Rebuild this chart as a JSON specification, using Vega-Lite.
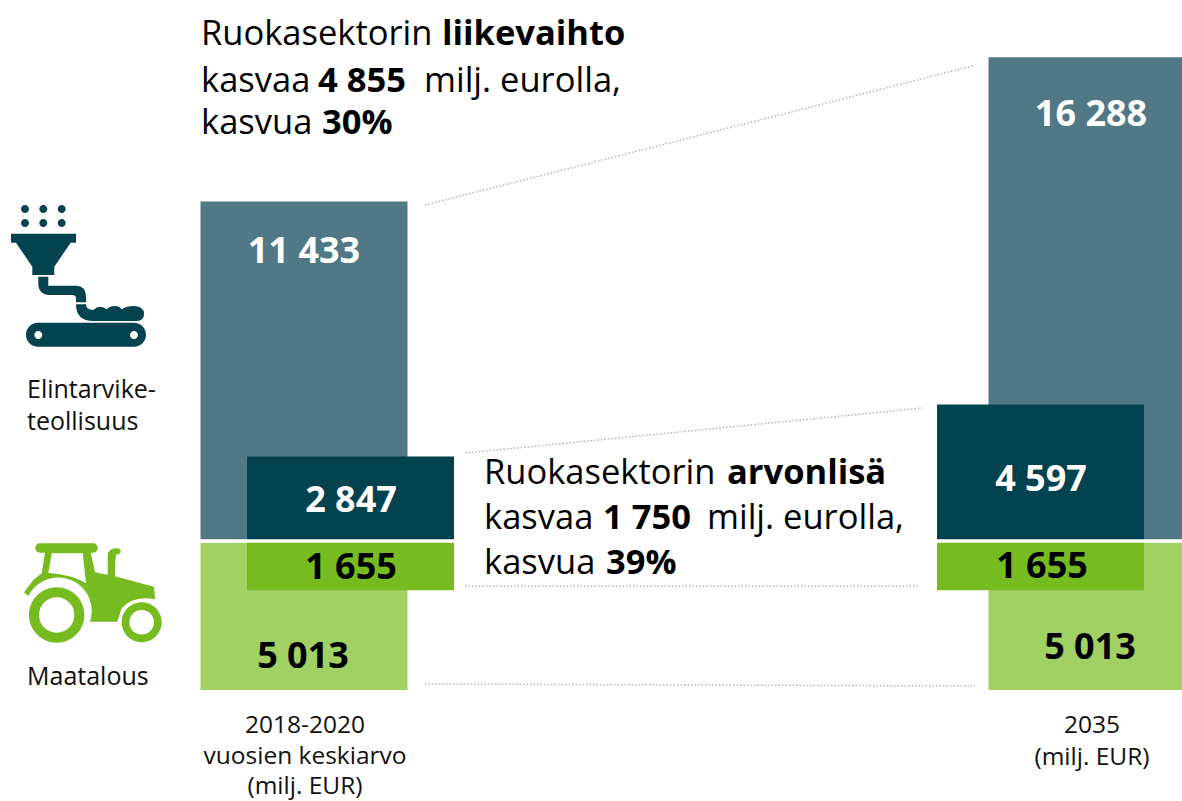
{"$schema":"https://vega.github.io/schema/vega-lite/v6.json","width":1182,"height":801,"padding":0,"autosize":{"type":"none"},"background":"white","config":{"view":{"stroke":null},"text":{"font":"Open Sans"}},
"data":{"values":[
{"id":"fa","period":"2018-2020","series":"Elintarviketeollisuus liikevaihto","start":5013,"end":16446,"label":"11 433"},
{"id":"fb","period":"2035","series":"Elintarviketeollisuus liikevaihto","start":5013,"end":21301,"label":"16 288"},
{"id":"la","period":"2018-2020","series":"Maatalous liikevaihto","start":0,"end":5013,"label":"5 013"},
{"id":"lb","period":"2035","series":"Maatalous liikevaihto","start":0,"end":5013,"label":"5 013"},
{"id":"da","period":"2018-2020","series":"Elintarviketeollisuus arvonlisä","start":5013,"end":7860,"label":"2 847"},
{"id":"db","period":"2035","series":"Elintarviketeollisuus arvonlisä","start":5013,"end":9610,"label":"4 597"},
{"id":"ga","period":"2018-2020","series":"Maatalous arvonlisä","start":3358,"end":5013,"label":"1 655"},
{"id":"gb","period":"2035","series":"Maatalous arvonlisä","start":3358,"end":5013,"label":"1 655"}]},
"datasets":{"links":[
{"id":"a","from":"2018-2020","to":"2035","left":16446,"right":21301},
{"id":"b","from":"2018-2020","to":"2035","left":7860,"right":9610},
{"id":"c","from":"2018-2020","to":"2035","left":3358,"right":3358},
{"id":"d","from":"2018-2020","to":"2035","left":0,"right":0}],
"one":[{"period":"2018-2020"}]},
"encoding":{"x":{"type":"nominal","axis":null,"scale":{"type":"point","domain":["2018-2020","2035"],"range":[304,1092],"padding":0}},"y":{"type":"quantitative","axis":null,"scale":{"domain":[-3737,23232],"range":[801,0],"nice":false,"zero":false}}},
"layer":[
{"transform":[{"filter":"datum.id=='fa'||datum.id=='fb'"}],"mark":{"type":"bar","width":207,"color":"#507885","clip":true},"encoding":{"x":{"field":"period"},"y":{"field":"end"},"y2":{"field":"start"}}},
{"transform":[{"filter":"datum.id=='la'||datum.id=='lb'"}],"mark":{"type":"bar","width":207,"color":"#a1d162","clip":true},"encoding":{"x":{"field":"period"},"y":{"field":"end"},"y2":{"field":"start"}}},
{"transform":[{"filter":"datum.id=='da'||datum.id=='ga'"}],"mark":{"type":"bar","width":207,"xOffset":46.5},"encoding":{"x":{"field":"period"},"y":{"field":"end"},"y2":{"field":"start"},"color":{"field":"series","type":"nominal","legend":null,"scale":{"domain":["Elintarviketeollisuus arvonlisä","Maatalous arvonlisä"],"range":["#03424f","#76bc21"]}}}},
{"transform":[{"filter":"datum.id=='db'||datum.id=='gb'"}],"mark":{"type":"bar","width":207,"xOffset":-51.5},"encoding":{"x":{"field":"period"},"y":{"field":"end"},"y2":{"field":"start"},"color":{"field":"series","type":"nominal","legend":null}}},
{"data":{"name":"one"},"mark":{"type":"rule","color":"white","strokeWidth":3.5},"encoding":{"x":{"value":0},"x2":{"value":1182},"y":{"datum":5013}}},
{"data":{"name":"links"},"transform":[{"filter":"datum.id=='a'"}],"mark":{"type":"rule","color":"#b5b5b5","strokeWidth":1.5,"strokeDash":[1.5,2],"xOffset":121,"x2Offset":-119,"yOffset":3.5,"y2Offset":8.5},"encoding":{"x":{"field":"from"},"x2":{"field":"to"},"y":{"field":"left"},"y2":{"field":"right"}}},
{"data":{"name":"links"},"transform":[{"filter":"datum.id=='b'"}],"mark":{"type":"rule","color":"#b5b5b5","strokeWidth":1.5,"strokeDash":[1.5,2],"xOffset":161,"x2Offset":-170,"yOffset":-3.5,"y2Offset":3.5},"encoding":{"x":{"field":"from"},"x2":{"field":"to"},"y":{"field":"left"},"y2":{"field":"right"}}},
{"data":{"name":"links"},"transform":[{"filter":"datum.id=='c'"}],"mark":{"type":"rule","color":"#b5b5b5","strokeWidth":1.5,"strokeDash":[1.5,2],"xOffset":161,"x2Offset":-172,"yOffset":-4,"y2Offset":-4},"encoding":{"x":{"field":"from"},"x2":{"field":"to"},"y":{"field":"left"},"y2":{"field":"right"}}},
{"data":{"name":"links"},"transform":[{"filter":"datum.id=='d'"}],"mark":{"type":"rule","color":"#b5b5b5","strokeWidth":1.5,"strokeDash":[1.5,2],"xOffset":121,"x2Offset":-117,"yOffset":-6,"y2Offset":-4},"encoding":{"x":{"field":"from"},"x2":{"field":"to"},"y":{"field":"left"},"y2":{"field":"right"}}},

{"transform":[{"filter":"datum.id=='fa'"}],"mark":{"type":"text","fontSize":36,"fontWeight":"bold","color":"white","dy":61.5,"baseline":"alphabetic"},"encoding":{"x":{"field":"period"},"y":{"field":"end"},"text":{"field":"label"}}},
{"transform":[{"filter":"datum.id=='fb'"}],"mark":{"type":"text","fontSize":36,"fontWeight":"bold","color":"white","dy":69.1,"dx":-1,"baseline":"alphabetic"},"encoding":{"x":{"field":"period"},"y":{"field":"end"},"text":{"field":"label"}}},
{"transform":[{"filter":"datum.id=='da'"}],"mark":{"type":"text","fontSize":36,"fontWeight":"bold","color":"white","dy":55,"dx":47,"baseline":"alphabetic"},"encoding":{"x":{"field":"period"},"y":{"field":"end"},"text":{"field":"label"}}},
{"transform":[{"filter":"datum.id=='db'"}],"mark":{"type":"text","fontSize":36,"fontWeight":"bold","color":"white","dy":86.5,"dx":-51,"baseline":"alphabetic"},"encoding":{"x":{"field":"period"},"y":{"field":"end"},"text":{"field":"label"}}},
{"transform":[{"filter":"datum.id=='ga'"}],"mark":{"type":"text","fontSize":36,"fontWeight":"bold","color":"black","dy":37.5,"dx":47,"baseline":"alphabetic"},"encoding":{"x":{"field":"period"},"y":{"field":"end"},"text":{"field":"label"}}},
{"transform":[{"filter":"datum.id=='gb'"}],"mark":{"type":"text","fontSize":36,"fontWeight":"bold","color":"black","dy":36.5,"dx":-50,"baseline":"alphabetic"},"encoding":{"x":{"field":"period"},"y":{"field":"end"},"text":{"field":"label"}}},
{"transform":[{"filter":"datum.id=='la'"}],"mark":{"type":"text","fontSize":36,"fontWeight":"bold","color":"black","dy":127,"dx":-1,"baseline":"alphabetic"},"encoding":{"x":{"field":"period"},"y":{"field":"end"},"text":{"field":"label"}}},
{"transform":[{"filter":"datum.id=='lb'"}],"mark":{"type":"text","fontSize":36,"fontWeight":"bold","color":"black","dy":118,"dx":-2,"baseline":"alphabetic"},"encoding":{"x":{"field":"period"},"y":{"field":"end"},"text":{"field":"label"}}},

{"data":{"values":[{"t":"Ruokasektorin"}]},"mark":{"type":"text","fontSize":34.5,"align":"left","baseline":"alphabetic","color":"black","dx":-103},"encoding":{"x":{"datum":"2018-2020"},"y":{"datum":21717},"text":{"field":"t"}}},
{"data":{"values":[{"t":"liikevaihto"}]},"mark":{"type":"text","fontSize":34.5,"fontWeight":"bold","align":"left","baseline":"alphabetic","color":"black","dx":138},"encoding":{"x":{"datum":"2018-2020"},"y":{"datum":21717},"text":{"field":"t"}}},
{"data":{"values":[{"t":"kasvaa"}]},"mark":{"type":"text","fontSize":34.5,"align":"left","baseline":"alphabetic","color":"black","dx":-103},"encoding":{"x":{"datum":"2018-2020"},"y":{"datum":20134},"text":{"field":"t"}}},
{"data":{"values":[{"t":"4 855"}]},"mark":{"type":"text","fontSize":34.5,"fontWeight":"bold","align":"left","baseline":"alphabetic","color":"black","dx":14},"encoding":{"x":{"datum":"2018-2020"},"y":{"datum":20134},"text":{"field":"t"}}},
{"data":{"values":[{"t":"milj. eurolla,"}]},"mark":{"type":"text","fontSize":34.5,"align":"left","baseline":"alphabetic","color":"black","dx":120},"encoding":{"x":{"datum":"2018-2020"},"y":{"datum":20134},"text":{"field":"t"}}},
{"data":{"values":[{"t":"kasvua"}]},"mark":{"type":"text","fontSize":34.5,"align":"left","baseline":"alphabetic","color":"black","dx":-103},"encoding":{"x":{"datum":"2018-2020"},"y":{"datum":18721},"text":{"field":"t"}}},
{"data":{"values":[{"t":"30%"}]},"mark":{"type":"text","fontSize":34.5,"fontWeight":"bold","align":"left","baseline":"alphabetic","color":"black","dx":18},"encoding":{"x":{"datum":"2018-2020"},"y":{"datum":18721},"text":{"field":"t"}}},

{"data":{"values":[{"t":"Ruokasektorin"}]},"mark":{"type":"text","fontSize":34.5,"align":"left","baseline":"alphabetic","color":"black","dx":180},"encoding":{"x":{"datum":"2018-2020"},"y":{"datum":6936},"text":{"field":"t"}}},
{"data":{"values":[{"t":"arvonlisä"}]},"mark":{"type":"text","fontSize":34.5,"fontWeight":"bold","align":"left","baseline":"alphabetic","color":"black","dx":423},"encoding":{"x":{"datum":"2018-2020"},"y":{"datum":6936},"text":{"field":"t"}}},
{"data":{"values":[{"t":"kasvaa"}]},"mark":{"type":"text","fontSize":34.5,"align":"left","baseline":"alphabetic","color":"black","dx":180},"encoding":{"x":{"datum":"2018-2020"},"y":{"datum":5421},"text":{"field":"t"}}},
{"data":{"values":[{"t":"1 750"}]},"mark":{"type":"text","fontSize":34.5,"fontWeight":"bold","align":"left","baseline":"alphabetic","color":"black","dx":299},"encoding":{"x":{"datum":"2018-2020"},"y":{"datum":5421},"text":{"field":"t"}}},
{"data":{"values":[{"t":"milj. eurolla,"}]},"mark":{"type":"text","fontSize":34.5,"align":"left","baseline":"alphabetic","color":"black","dx":403},"encoding":{"x":{"datum":"2018-2020"},"y":{"datum":5421},"text":{"field":"t"}}},
{"data":{"values":[{"t":"kasvua"}]},"mark":{"type":"text","fontSize":34.5,"align":"left","baseline":"alphabetic","color":"black","dx":180},"encoding":{"x":{"datum":"2018-2020"},"y":{"datum":3906},"text":{"field":"t"}}},
{"data":{"values":[{"t":"39%"}]},"mark":{"type":"text","fontSize":34.5,"fontWeight":"bold","align":"left","baseline":"alphabetic","color":"black","dx":302},"encoding":{"x":{"datum":"2018-2020"},"y":{"datum":3906},"text":{"field":"t"}}},

{"data":{"values":[{"t":"Elintarvike-\nteollisuus"}]},"mark":{"type":"text","fontSize":25,"align":"left","baseline":"alphabetic","lineBreak":"\n","lineHeight":32,"color":"#111","dx":-277},"encoding":{"x":{"datum":"2018-2020"},"y":{"datum":9832},"text":{"field":"t"}}},
{"data":{"values":[{"t":"Maatalous"}]},"mark":{"type":"text","fontSize":25,"align":"left","baseline":"alphabetic","color":"#111","dx":-277},"encoding":{"x":{"datum":"2018-2020"},"y":{"datum":168},"text":{"field":"t"}}},
{"data":{"values":[{"t":"2018-2020\nvuosien keskiarvo\n(milj. EUR)"}]},"mark":{"type":"text","fontSize":24.5,"align":"center","baseline":"alphabetic","lineBreak":"\n","lineHeight":30.5,"color":"#111","dx":1},"encoding":{"x":{"datum":"2018-2020"},"y":{"datum":-1448},"text":{"field":"t"}}},
{"data":{"values":[{"t":"2035\n(milj. EUR)"}]},"mark":{"type":"text","fontSize":24.5,"align":"center","baseline":"alphabetic","lineBreak":"\n","lineHeight":32,"color":"#111","dx":0},"encoding":{"x":{"datum":"2035"},"y":{"datum":-1448},"text":{"field":"t"}}},

{"data":{"name":"one"},"mark":{"type":"point","filled":true,"opacity":1,"size":4,"color":"#03424f","xOffset":-227,"shape":"M-56 -68A4 4 0 1 1 -48 -68A4 4 0 1 1 -56 -68ZM-37.7 -68A4 4 0 1 1 -29.7 -68A4 4 0 1 1 -37.7 -68ZM-19.3 -68A4 4 0 1 1 -11.3 -68A4 4 0 1 1 -19.3 -68ZM-56 -54A4 4 0 1 1 -48 -54A4 4 0 1 1 -56 -54ZM-37.7 -54A4 4 0 1 1 -29.7 -54A4 4 0 1 1 -37.7 -54ZM-19.3 -54A4 4 0 1 1 -11.3 -54A4 4 0 1 1 -19.3 -54ZM-66 -43.3L-1 -43.3L-1 -34.3L-6.3 -34.3L-22.7 -10.3L-22.7 -2L-44.7 -2L-44.7 -10.3L-61 -34.3L-66 -34.3ZM-38.7 -0.3L-28.7 -0.3L-28.7 8.7L-1 8.7Q9 9 9 19.7L9 25.3L-1 25.3L-1 21.3Q-1 18 -5.3 18L-27 18Q-38.7 18 -38.7 6.3ZM-1 27.3L9 27.3Q9 33 16.3 33Q20 29.7 23 29.7Q27 29.7 29.7 32.3Q33 29 38 29Q42 29 44.7 32.3Q50 29 56.3 29Q67 29 67 37Q67 44 59.7 44L16.3 44Q-1 44 -1 27.3ZM-39 45.7L57 45.7A12 12 0 0 1 69 57.7A12 12 0 0 1 57 69.7L-39 69.7A12 12 0 0 1 -51 57.7A12 12 0 0 1 -39 45.7ZM-42.7 58A4 4 0 1 0 -34.7 58A4 4 0 1 0 -42.7 58ZM53 58A4 4 0 1 0 61 58A4 4 0 1 0 53 58Z"},"encoding":{"x":{"datum":"2018-2020"},"y":{"datum":13906}}},
{"data":{"name":"one"},"mark":{"type":"point","filled":true,"opacity":1,"size":4,"color":"#76bc21","xOffset":-211,"shape":"M-53 -46.7L0 -46.7A4.7 4.7 0 0 1 0 -37.3L-53 -37.3A4.7 4.7 0 0 1 -53 -46.7ZM-51.3 -16.7L-48 -37.3L-2.3 -37.3L2 -17.7L23.7 -13.3L61 -3.3L62 9.3Q40.3 5 28.7 18.3L24.3 31.7L-3 31.7A33.5 33.5 0 0 0 -64.7 6L-69 2.3L-59.7 -10Q-55 -14 -51.3 -16.7ZM-41.3 -36.7L-44.7 -17.3Q-19.7 -15 -7 -6.7L-10.3 -36.7ZM14.7 -15L14.7 -34Q14.7 -41.7 23.7 -41.7Q27.7 -41.7 27.7 -38.3Q27 -35.7 23.7 -35.7Q22 -35 22 -13.3ZM-64 25A27.7 27.7 0 1 1 -8.6 25A27.7 27.7 0 1 1 -64 25ZM-54 25A17.7 17.7 0 1 0 -18.6 25A17.7 17.7 0 1 0 -54 25ZM28.7 32.3A20 20 0 1 1 68.7 32.3A20 20 0 1 1 28.7 32.3ZM36.4 32.3A12.3 12.3 0 1 0 61 32.3A12.3 12.3 0 1 0 36.4 32.3Z"},"encoding":{"x":{"datum":"2018-2020"},"y":{"datum":3367}}}
]}
